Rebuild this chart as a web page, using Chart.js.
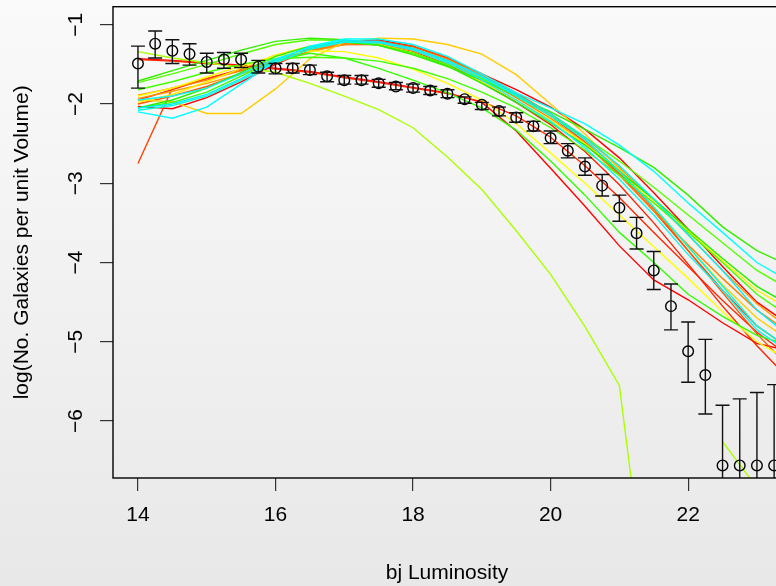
<!DOCTYPE html>
<html>
<head>
<meta charset="utf-8">
<script src="https://cdn.jsdelivr.net/npm/chart.js@4.4.0/dist/chart.umd.min.js"></script>
<style>
html, body { margin:0; padding:0; width:776px; height:586px; overflow:hidden;
  background: linear-gradient(#fafafa, #e8e8e8); }
#wrap { position:absolute; left:0; top:0; width:800px; height:586px; }
</style>
</head>
<body>
<div id="wrap"><canvas id="c"></canvas></div>
<script>
// observed luminosity function (points with error bars)
var ptX = [14,14.25,14.5,14.75,15,15.25,15.5,15.75,16,16.25,16.5,16.75,17,17.25,17.5,17.75,18,18.25,18.5,18.75,
           19,19.25,19.5,19.75,20,20.25,20.5,20.75,21,21.25,21.5,21.75,22,22.25,22.5,22.75,23,23.25];
var ptY = [-1.49,-1.24,-1.33,-1.37,-1.47,-1.44,-1.44,-1.53,-1.55,-1.55,-1.57,-1.65,-1.70,-1.70,-1.74,-1.78,-1.80,-1.83,-1.87,-1.94,
           -2.01,-2.09,-2.17,-2.28,-2.43,-2.59,-2.79,-3.03,-3.31,-3.63,-4.10,-4.55,-5.12,-5.42,-6.56,-6.56,-6.56,-6.56];
var errHi = [-1.27,-1.08,-1.19,-1.24,-1.36,-1.35,-1.36,-1.45,-1.49,-1.49,-1.51,-1.60,-1.64,-1.64,-1.69,-1.73,-1.75,-1.78,-1.82,-1.91,
             -1.98,-2.04,-2.11,-2.22,-2.34,-2.50,-2.68,-2.89,-3.15,-3.43,-3.86,-4.27,-4.75,-4.97,-5.80,-5.72,-5.64,-5.54];
// null = lower error goes to -infinity
var errLo = [-1.80,-1.42,-1.49,-1.51,-1.61,-1.55,-1.54,-1.61,-1.62,-1.61,-1.63,-1.72,-1.75,-1.75,-1.79,-1.82,-1.85,-1.88,-1.92,-1.99,
             -2.07,-2.15,-2.23,-2.34,-2.50,-2.68,-2.90,-3.16,-3.48,-3.83,-4.34,-4.85,-5.51,-5.91,null,null,null,null];

// model curves
var lineX = [14,14.5,15,15.5,16,16.5,17,17.5,18,18.5,19,19.5,20,20.5,21,21.5,22,22.5,23,23.5];
var redLow    = [-1.43,-1.45,-1.48,-1.51,-1.55,-1.59,-1.66,-1.72,-1.79,-1.86,-1.98,-2.34,-2.81,-3.29,-3.79,-4.22,-4.47,-4.76,-5.02,-5.12];
var redPts    = [-1.44,-1.46,-1.49,-1.52,-1.56,-1.60,-1.67,-1.73,-1.80,-1.87,-1.97,-2.15,-2.42,-2.78,-3.18,-3.62,-4.05,-4.48,-4.88,-5.20];
var greenLow  = [-2.05,-1.98,-1.85,-1.65,-1.45,-1.36,-1.42,-1.55,-1.70,-1.86,-2.05,-2.33,-2.72,-3.15,-3.62,-4.00,-4.40,-4.68,-4.92,-5.05];
var yellowLow = [-1.90,-1.80,-1.66,-1.52,-1.40,-1.33,-1.34,-1.42,-1.56,-1.74,-1.95,-2.25,-2.62,-3.00,-3.40,-3.80,-4.20,-4.62,-5.00,-5.25];
var limeDive  = [-1.34,-1.42,-1.48,-1.54,-1.60,-1.74,-1.90,-2.07,-2.30,-2.67,-3.08,-3.60,-4.15,-4.81,-5.55,-9,null,-6.26,-6.84,null];
var green1 = [-1.71,-1.58,-1.45,-1.32,-1.21,-1.17,-1.19,-1.26,-1.38,-1.53,-1.70,-1.90,-2.10,-2.32,-2.55,-2.80,-3.15,-3.55,-3.85,-4.05];
var green2 = [-1.73,-1.62,-1.50,-1.37,-1.25,-1.19,-1.20,-1.26,-1.36,-1.50,-1.68,-1.90,-2.15,-2.42,-2.72,-3.05,-3.40,-3.75,-4.10,-4.35];
var green3 = [-1.82,-1.72,-1.60,-1.50,-1.43,-1.41,-1.42,-1.46,-1.55,-1.68,-1.85,-2.05,-2.30,-2.58,-2.90,-3.25,-3.62,-4.00,-4.40,-4.70];
var green4 = [-2.05,-1.95,-1.80,-1.60,-1.40,-1.27,-1.22,-1.26,-1.36,-1.52,-1.74,-1.98,-2.24,-2.52,-2.85,-3.20,-3.58,-3.95,-4.30,-4.55];
var cyan1  = [-2.10,-2.18,-2.04,-1.75,-1.46,-1.27,-1.18,-1.18,-1.25,-1.40,-1.62,-1.86,-2.05,-2.25,-2.52,-2.85,-3.25,-3.62,-4.00,-4.25];
var cyan2  = [-2.05,-2.00,-1.88,-1.68,-1.45,-1.28,-1.20,-1.21,-1.30,-1.45,-1.65,-1.88,-2.12,-2.42,-2.78,-3.20,-3.65,-4.10,-4.60,-4.95];
var cyan3  = [-1.95,-1.90,-1.80,-1.62,-1.43,-1.29,-1.22,-1.23,-1.32,-1.48,-1.70,-1.95,-2.22,-2.55,-2.95,-3.40,-3.90,-4.35,-4.85,-5.15];
var cyan4  = [-2.08,-2.02,-1.90,-1.70,-1.48,-1.31,-1.22,-1.22,-1.30,-1.46,-1.66,-1.90,-2.15,-2.45,-2.85,-3.30,-3.80,-4.30,-4.80,-5.10];
var orange1 = [-1.89,-1.80,-1.70,-1.58,-1.45,-1.32,-1.24,-1.24,-1.32,-1.48,-1.68,-1.92,-2.18,-2.50,-2.90,-3.35,-3.78,-4.20,-4.60,-4.90];
var orange2 = [-1.93,-1.84,-1.74,-1.62,-1.48,-1.34,-1.25,-1.23,-1.30,-1.44,-1.64,-1.88,-2.12,-2.42,-2.80,-3.22,-3.65,-4.10,-4.52,-4.85];
var orangeSteep = [-2.75,-1.80,-1.68,-1.58,-1.46,-1.33,-1.24,-1.21,-1.27,-1.42,-1.63,-1.88,-2.15,-2.48,-2.88,-3.35,-3.85,-4.35,-4.80,-5.10];
var orange3 = [-2.00,-1.90,-1.78,-1.62,-1.45,-1.30,-1.22,-1.21,-1.28,-1.42,-1.62,-1.86,-2.12,-2.45,-2.85,-3.32,-3.85,-4.38,-4.90,-5.35];
var red1   = [-2.03,-2.06,-1.92,-1.72,-1.50,-1.31,-1.21,-1.19,-1.27,-1.42,-1.62,-1.82,-2.04,-2.32,-2.68,-3.12,-3.58,-4.05,-4.50,-4.80];
var red2   = [-1.95,-1.82,-1.68,-1.56,-1.45,-1.33,-1.25,-1.25,-1.34,-1.50,-1.72,-1.98,-2.26,-2.60,-3.02,-3.50,-4.02,-4.55,-5.05,-5.50];
var gold1  = [-1.95,-1.97,-2.12,-2.12,-1.81,-1.43,-1.22,-1.17,-1.18,-1.25,-1.37,-1.63,-2.00,-2.38,-2.82,-3.30,-3.80,-4.28,-4.70,-5.00];
var yellow1 = [-1.98,-1.88,-1.72,-1.55,-1.38,-1.27,-1.22,-1.25,-1.35,-1.52,-1.72,-1.95,-2.20,-2.50,-2.85,-3.22,-3.60,-3.98,-4.35,-4.60];

var xTicks = [14,16,18,20,22];
var yTicks = [-1,-2,-3,-4,-5,-6];

var models = [
  [cyan1,'#00ffff'],[cyan2,'#00f0ff'],[cyan3,'#10f4f0'],[cyan4,'#00ffdd'],
  [green1,'#33ee00'],[green2,'#55ff00'],[green3,'#44ff00'],[green4,'#22ee00'],[greenLow,'#33ff00'],
  [limeDive,'#aaff00'],[yellow1,'#ffee00'],[yellowLow,'#ffff00'],[gold1,'#ffcc00'],
  [orange1,'#ff8000'],[orange2,'#ff9900'],[orange3,'#ff5500'],[orangeSteep,'#ff4400'],
  [red1,'#ff0000'],[red2,'#ff2200'],[redPts,'#ff2800'],[redLow,'#ff0000']
];

function toXY(xs, ys) {
  var out = [];
  for (var i = 0; i < xs.length; i++) out.push({x: xs[i], y: ys[i]});
  return out;
}

var datasets = [{
  data: toXY(ptX, ptY),
  showLine: false,
  pointRadius: 5.3,
  pointBorderWidth: 1.4,
  pointBorderColor: '#000',
  pointBackgroundColor: 'rgba(0,0,0,0)'
}];
for (var m = 0; m < models.length; m++) {
  datasets.push({
    data: toXY(lineX, models[m][0]),
    borderColor: models[m][1],
    borderWidth: 1.4,
    pointRadius: 0,
    spanGaps: false,
    tension: 0
  });
}

var font = "'Liberation Sans', Arial, Helvetica, sans-serif";

var extras = {
  id: 'extras',
  afterDatasetsDraw: function (chart) {
    var ctx = chart.ctx, a = chart.chartArea;
    var xs = chart.scales.x, ys = chart.scales.y;
    ctx.save();
    ctx.beginPath();
    ctx.rect(a.left, a.top, a.right - a.left, a.bottom - a.top);
    ctx.clip();
    ctx.strokeStyle = '#111';
    ctx.lineWidth = 1.4;
    for (var i = 0; i < ptX.length; i++) {
      var px = xs.getPixelForValue(ptX[i]);
      var top = ys.getPixelForValue(errHi[i]);
      var bot = errLo[i] === null ? a.bottom + 20 : ys.getPixelForValue(errLo[i]);
      ctx.beginPath();
      ctx.moveTo(px, top); ctx.lineTo(px, bot);
      ctx.moveTo(px - 7, top); ctx.lineTo(px + 7, top);
      if (errLo[i] !== null) { ctx.moveTo(px - 7, bot); ctx.lineTo(px + 7, bot); }
      ctx.stroke();
    }
    ctx.restore();
  },
  afterDraw: function (chart) {
    var ctx = chart.ctx, a = chart.chartArea, ys = chart.scales.y;
    ctx.save();
    ctx.strokeStyle = '#000';
    ctx.lineWidth = 1.4;
    ctx.strokeRect(a.left, a.top, a.right - a.left, a.bottom - a.top);
    ctx.fillStyle = '#000';
    ctx.font = '21px ' + font;
    ctx.textAlign = 'center';
    ctx.textBaseline = 'middle';
    for (var i = 0; i < yTicks.length; i++) {
      var py = ys.getPixelForValue(yTicks[i]);
      ctx.save();
      ctx.translate(76, py);
      ctx.rotate(-Math.PI / 2);
      ctx.fillText('\u2212' + (-yTicks[i]), 0, 0);
      ctx.restore();
    }
    ctx.restore();
  }
};

new Chart(document.getElementById('c').getContext('2d'), {
  type: 'line',
  data: { datasets: datasets },
  plugins: [extras],
  options: {
    responsive: true,
    maintainAspectRatio: false,
    animation: false,
    layout: { padding: { left: 0, top: 6, right: 19, bottom: 0 } },
    plugins: { legend: { display: false }, tooltip: { enabled: false } },
    scales: {
      x: {
        type: 'linear',
        min: 13.637, max: 23.35,
        afterFit: function (s) { s.height = 108; },
        afterBuildTicks: function (s) { s.ticks = xTicks.map(function (v) { return {value: v}; }); },
        grid: { drawOnChartArea: false, drawTicks: true, tickLength: 13, tickColor: '#333', lineWidth: 1.2 },
        border: { display: false },
        ticks: { padding: 12, color: '#000', font: { family: font, size: 21 } },
        title: { display: true, text: 'bj Luminosity', color: '#000', padding: { top: 3, bottom: 0 },
                 font: { family: font, size: 21 } }
      },
      y: {
        type: 'linear',
        min: -6.718, max: -0.773,
        afterFit: function (s) { s.width = 113; },
        afterBuildTicks: function (s) { s.ticks = yTicks.map(function (v) { return {value: v}; }); },
        grid: { drawOnChartArea: false, drawTicks: true, tickLength: 13, tickColor: '#333', lineWidth: 1.2 },
        border: { display: false },
        ticks: { display: false },
        title: { display: true, text: 'log(No. Galaxies per unit Volume)', color: '#000', padding: { top: 10, bottom: 0 },
                 font: { family: font, size: 21 } }
      }
    }
  }
});
</script>
</body>
</html>
